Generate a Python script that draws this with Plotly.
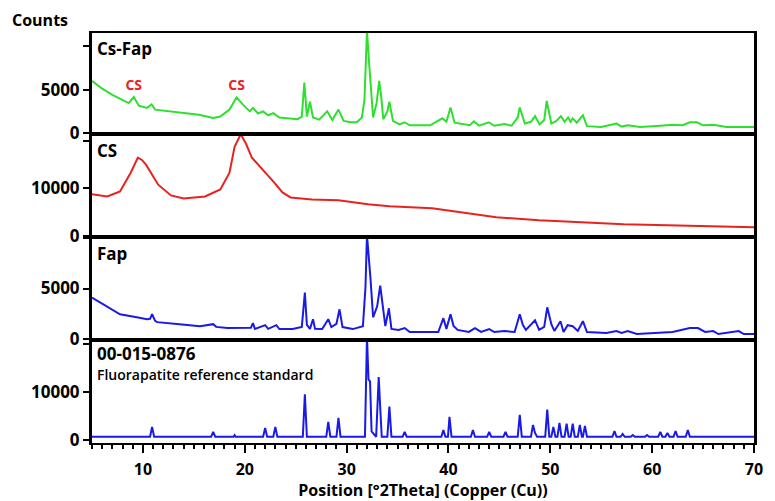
import plotly.graph_objects as go

# ---------------- data ----------------
cs_fap_theta = [5.0, 6.0, 7.0, 8.0, 8.6, 9.1, 9.6, 10.4, 10.85, 11.2,
                12.5, 14.0, 15.5, 16.9, 17.6, 18.5, 19.2, 19.8, 20.5, 20.8,
                21.3, 21.8, 22.3, 22.8, 23.4, 25.2, 25.6, 25.85, 26.1, 26.4,
                26.7, 27.3, 28.1, 28.6, 29.2, 29.7, 30.4, 31.0, 31.5, 31.75,
                32.0, 32.2, 32.35, 32.6, 32.95, 33.2, 33.4, 33.6, 34.0, 34.2,
                34.55, 35.2, 35.7, 36.2, 38.2, 39.4, 39.8, 40.2, 40.6, 42.1,
                42.5, 43.0, 43.95, 44.5, 45.5, 46.2, 46.8, 47.0, 47.5, 48.1,
                48.5, 48.95, 49.4, 49.65, 50.1, 50.6, 51.05, 51.4, 51.75, 52.0,
                52.2, 52.6, 53.2, 53.6, 55.0, 56.5, 57.0, 57.6, 58.8, 60.0,
                60.8, 62.0, 63.0, 63.7, 64.4, 65.0, 66.0, 67.3, 70.0]
cs_fap_counts = [6000, 5100, 4400, 3800, 3450, 4150, 3150, 2900, 3300, 2700,
                 2500, 2350, 2100, 1750, 1900, 2700, 4100, 3300, 2500, 2900,
                 2250, 2500, 2050, 2300, 1800, 1600, 1900, 5800, 1900, 3600,
                 1800, 1550, 2500, 1500, 2700, 1400, 1250, 1250, 1800, 3800,
                 11800, 8200, 6000, 1800, 3500, 6000, 4200, 1600, 2500, 3600,
                 1400, 1000, 1250, 900, 900, 1700, 1300, 2950, 1200, 900,
                 1350, 850, 1250, 850, 1050, 850, 1800, 2950, 1100, 1300,
                 1950, 1000, 1500, 3700, 1100, 1400, 1950, 1300, 1800, 1300,
                 1700, 1200, 2050, 800, 700, 1100, 750, 900, 700, 750,
                 850, 950, 900, 1250, 1250, 900, 950, 700, 700]

cs_theta = [5.0, 5.2, 6.5, 7.75, 8.8, 9.5, 9.9, 10.3, 11.5, 12.75,
            14.0, 16.1, 17.6, 18.5, 19.0, 19.6, 20.1, 20.7, 21.4, 22.0,
            22.9, 23.7, 24.5, 26.6, 29.2, 32.1, 34.2, 38.4, 41.3, 44.7,
            48.9, 53.0, 57.2, 61.5, 65.7, 70.0]
cs_counts = [8800, 8750, 8330, 9370, 13300, 16500, 16000, 15000, 10800, 8540,
             7900, 8330, 9800, 13300, 18750, 21400, 19500, 16450, 14800, 13500,
             11250, 9170, 8120, 7700, 7500, 6670, 6250, 5830, 5000, 3960,
             3330, 2920, 2500, 2290, 2080, 1870]

fap_theta = [5.0, 6.8, 7.75, 9.4, 10.4, 10.7, 10.9, 11.2, 11.4, 13.6,
             15.6, 16.9, 17.2, 18.3, 19.5, 20.6, 20.8, 21.0, 22.0, 22.3,
             23.1, 23.4, 24.7, 25.6, 25.9, 26.1, 26.4, 26.7, 26.9, 27.6,
             28.2, 28.5, 29.0, 29.3, 29.6, 30.6, 31.6, 31.85, 32.0, 32.2,
             32.35, 32.6, 33.0, 33.3, 33.45, 33.8, 34.15, 34.4, 35.1, 35.7,
             36.2, 39.0, 39.5, 39.8, 40.2, 40.5, 40.9, 42.0, 42.6, 43.2,
             44.0, 44.5, 45.5, 46.5, 47.0, 47.3, 47.6, 48.5, 48.9, 49.4,
             49.7, 50.1, 50.4, 51.0, 51.3, 51.7, 52.2, 52.7, 53.2, 53.6,
             55.5, 56.5, 57.0, 57.6, 58.5, 60.8, 62.0, 63.7, 64.5, 65.2,
             66.0, 66.5, 68.5, 69.0, 70.0]
fap_counts = [4100, 3040, 2450, 2150, 1960, 2000, 2450, 1800, 1670, 1470,
              1270, 1470, 1200, 1080, 1080, 1100, 1570, 1000, 1370, 1000,
              1370, 980, 980, 1200, 4600, 1400, 1000, 1960, 1000, 980,
              1960, 1180, 1500, 2940, 1180, 980, 1270, 5100, 10300, 7150,
              5900, 2150, 3230, 5290, 4200, 1270, 3040, 1000, 900, 1080,
              690, 690, 2060, 1000, 2450, 1300, 900, 700, 1080, 700,
              980, 690, 780, 690, 2450, 1400, 900, 1860, 900, 1200,
              3140, 1470, 800, 1760, 700, 1370, 1270, 800, 1760, 690,
              600, 780, 590, 780, 490, 590, 690, 1080, 1080, 700,
              780, 490, 780, 490, 490]

ref_theta = [5.0, 10.7, 10.9, 11.1, 16.7, 16.9, 17.1, 18.9, 19.0, 19.1,
             21.8, 22.0, 22.2, 22.8, 23.0, 23.2, 25.7, 25.9, 26.1, 28.0,
             28.2, 28.4, 29.0, 29.2, 29.4, 31.8, 32.0, 32.15, 32.3, 32.45,
             32.9, 33.15, 33.3, 33.45, 34.0, 34.2, 34.4, 35.5, 35.7, 35.9,
             39.3, 39.5, 39.7, 39.95, 40.1, 40.3, 42.2, 42.4, 42.6, 43.8,
             44.0, 44.2, 45.4, 45.6, 45.8, 46.8, 47.0, 47.2, 48.1, 48.3,
             48.5, 48.7, 49.5, 49.7, 49.9, 50.1, 50.3, 50.5, 50.7, 50.9,
             51.1, 51.4, 51.6, 51.8, 52.0, 52.2, 52.4, 52.7, 52.9, 53.1,
             53.2, 53.4, 53.6, 56.1, 56.3, 56.5, 56.9, 57.1, 57.3, 57.9,
             58.1, 58.3, 59.3, 59.5, 59.7, 60.6, 60.8, 61.0, 61.3, 61.5,
             61.7, 62.1, 62.3, 62.5, 63.3, 63.5, 63.7, 70.0]
ref_counts = [700, 700, 2750, 700, 700, 1690, 700, 700, 1050, 700,
              700, 2530, 700, 700, 2740, 700, 700, 9500, 700, 700,
              3800, 700, 700, 4640, 700, 700, 21500, 12600, 12200, 1800,
              700, 13080, 6750, 700, 700, 6960, 700, 700, 1690, 700,
              700, 2110, 700, 700, 4850, 700, 700, 2100, 700, 700,
              1690, 700, 700, 1690, 700, 700, 5270, 700, 700, 3160,
              1500, 700, 700, 6330, 700, 700, 2740, 700, 700, 3590,
              700, 700, 3400, 700, 700, 3400, 700, 700, 3160, 700,
              700, 2950, 700, 700, 1900, 700, 700, 1270, 700, 700,
              1050, 700, 700, 1050, 700, 700, 1690, 700, 700, 1480,
              700, 700, 1900, 700, 700, 2110, 700, 700]

x_ticks = [10, 20, 30, 40, 50, 60, 70]
panel_names = ["Cs-Fap", "CS", "Fap", "00-015-0876"]
cs_marks_theta = [9.1, 19.2]
cs_marks_counts = [5300, 5400]

# ---------------- figure ----------------
GREEN = "#2ee02e"
RED = "#e8231f"
BLUE = "#1a1ae6"
FONT = "Open Sans"

fig = go.Figure()
fig.add_trace(go.Scatter(x=cs_fap_theta, y=cs_fap_counts, mode="lines",
                         line=dict(color=GREEN, width=2), xaxis="x4", yaxis="y4"))
fig.add_trace(go.Scatter(x=cs_theta, y=cs_counts, mode="lines",
                         line=dict(color=RED, width=2), xaxis="x3", yaxis="y3"))
fig.add_trace(go.Scatter(x=fap_theta, y=fap_counts, mode="lines",
                         line=dict(color=BLUE, width=2), xaxis="x2", yaxis="y2"))
fig.add_trace(go.Scatter(x=ref_theta, y=ref_counts, mode="lines",
                         line=dict(color=BLUE, width=2), xaxis="x", yaxis="y"))

# red CS markers in top panel
fig.add_trace(go.Scatter(x=cs_marks_theta, y=cs_marks_counts, mode="text",
                         text=["CS", "CS"],
                         textfont=dict(family=FONT, size=14, color=RED, weight="bold"),
                         xaxis="x4", yaxis="y4"))

# page body has an 8px margin: figure starts at page (8, 8)
OFF = 8
H = 410.0  # plot-area height in px (page y 33 .. 443)
def dom(top_px, bot_px):
    return [(443 - bot_px) / H, (443 - top_px) / H]

tickfont = dict(family=FONT, size=17, color="black", weight="bold")
xtickfont = dict(family=FONT, size=16, color="black", weight="bold")

yaxis_common = dict(showline=True, linewidth=3, linecolor="black", mirror=True,
                    ticks="outside", ticklen=6, tickwidth=2, tickcolor="black",
                    showgrid=False, zeroline=False, tickfont=tickfont,
                    automargin=False)
xaxis_hidden = dict(matches="x", showline=True, linewidth=2, linecolor="black",
                    mirror=True, showticklabels=False, ticks="", showgrid=False,
                    zeroline=False, automargin=False)

fig.update_layout(
    width=775 - OFF, height=501 - OFF,
    margin=dict(l=92 - OFF, r=21, t=33 - OFF, b=58, autoexpand=False),
    paper_bgcolor="white", plot_bgcolor="white",
    showlegend=False,
    xaxis=dict(range=[5, 70], anchor="y", domain=[0, 1], automargin=False,
               showline=True, linewidth=2, linecolor="black", mirror=True,
               tickvals=x_ticks, ticks="outside", ticklen=8, tickwidth=2,
               tickcolor="black", showgrid=False, zeroline=False,
               ticklabelstandoff=3,
               minor=dict(dtick=1, ticks="outside", ticklen=4, tickwidth=1.5,
                          tickcolor="black", showgrid=False),
               tickfont=xtickfont,
               title=dict(text="Position [°2Theta] (Copper (Cu))",
                          font=dict(family=FONT, size=16, color="black", weight="bold"),
                          standoff=1)),
    xaxis2=dict(anchor="y2", **xaxis_hidden),
    xaxis3=dict(anchor="y3", **xaxis_hidden),
    xaxis4=dict(anchor="y4", **xaxis_hidden),
    yaxis=dict(domain=dom(340, 443), range=[-600, 20800],
               tickvals=[0, 10000, 20000], ticktext=["0", "10000", ""],
               anchor="x", **yaxis_common),
    yaxis2=dict(domain=dom(237, 340), range=[-100, 10100],
                tickvals=[0, 5000, 10000], ticktext=["0", "5000", ""],
                anchor="x2", **yaxis_common),
    yaxis3=dict(domain=dom(134, 237), range=[-200, 21450],
                tickvals=[0, 10000, 20000], ticktext=["0", "10000", ""],
                anchor="x3", **yaxis_common),
    yaxis4=dict(domain=dom(33, 134), range=[-100, 11500],
                tickvals=[0, 5000, 10000], ticktext=["0", "5000", ""],
                anchor="x4", **yaxis_common),
)

label_font = dict(family=FONT, size=17, color="black", weight="bold")
label_tops = [35, 137, 240, 340]
for name, top in zip(panel_names, label_tops):
    fig.add_annotation(text=name, xref="paper", yref="paper",
                       x=0.005, y=(443 - top) / H, xanchor="left", yanchor="top",
                       showarrow=False, font=label_font)
fig.add_annotation(text="Fluorapatite reference standard", xref="paper", yref="paper",
                   x=0.005, y=(443 - 363) / H, xanchor="left", yanchor="top",
                   showarrow=False,
                   font=dict(family=FONT, size=14, color="black", weight=600))
fig.add_annotation(text="Counts", xref="paper", yref="paper",
                   x=(10 - 92) / 662, y=(443 - 20) / H, xanchor="left", yanchor="middle",
                   showarrow=False,
                   font=dict(family=FONT, size=16, color="black", weight="bold"))

fig.write_html("out.html")
